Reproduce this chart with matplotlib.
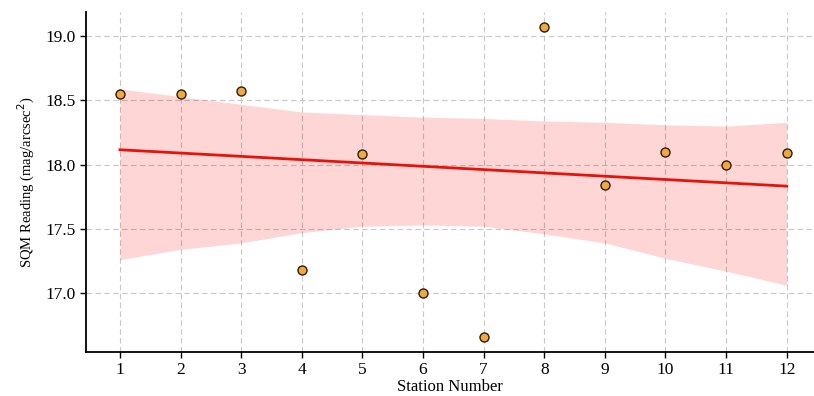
import numpy as np
import matplotlib
matplotlib.use("Agg")
import matplotlib.pyplot as plt

# station readings
stations = [1, 2, 3, 4, 5, 6, 7, 8, 9, 10, 11, 12]
sqm = [18.55, 18.55, 18.57, 17.18, 18.08, 17.00, 16.66, 19.07, 17.84, 18.10, 18.00, 18.09]

# confidence band edges at each station (bootstrap band in the original)
band_upper = [18.59, 18.53, 18.47, 18.41, 18.39, 18.37, 18.36, 18.34, 18.33, 18.31, 18.30, 18.33]
band_lower = [17.26, 17.34, 17.39, 17.47, 17.52, 17.53, 17.52, 17.46, 17.39, 17.27, 17.17, 17.06]

plt.rcParams['font.family'] = ['Liberation Serif', 'DejaVu Serif']

fig = plt.figure(figsize=(8.14, 3.96), dpi=100)
ax = fig.add_axes([0.1057, 0.111, 0.8943, 0.859])

x = np.array(stations, dtype=float)
y = np.array(sqm)

# linear fit
slope, intercept = np.polyfit(x, y, 1)
xs = np.linspace(x.min(), x.max(), 100)

ax.fill_between(stations, band_lower, band_upper, color='red', alpha=0.16, linewidth=0, zorder=1)
ax.plot(xs, intercept + slope * xs, color='#e8120c', lw=2, zorder=2)
ax.scatter(stations, sqm, s=42, color='#f0a93c', edgecolor='#2b1d0e', linewidth=1.0, zorder=3)

ax.set_xlim(0.44, 12.45)
ax.set_ylim(16.54, 19.19)
ax.set_xticks(stations)
ax.set_yticks([17.0, 17.5, 18.0, 18.5, 19.0])
ax.set_yticklabels(['17.0', '17.5', '18.0', '18.5', '19.0'])
ax.tick_params(axis='both', labelsize=12.5, length=4, width=1, color='black')
ax.tick_params(axis='x', pad=3)

ax.grid(True, linestyle=(0, (5, 3)), color='#c8c8c8', linewidth=0.8)
ax.set_axisbelow(True)

for s in ['top', 'right']:
    ax.spines[s].set_visible(False)
for s in ['left', 'bottom']:
    ax.spines[s].set_linewidth(1.3)
    ax.spines[s].set_color('black')

ax.set_xlabel('Station Number', fontsize=12, va='bottom')
ax.xaxis.set_label_coords(0.5, -0.125)
ax.set_ylabel('SQM Reading (mag/arcsec$^2$)', fontsize=10.5, labelpad=6)

plt.savefig("out.png", dpi=100)
